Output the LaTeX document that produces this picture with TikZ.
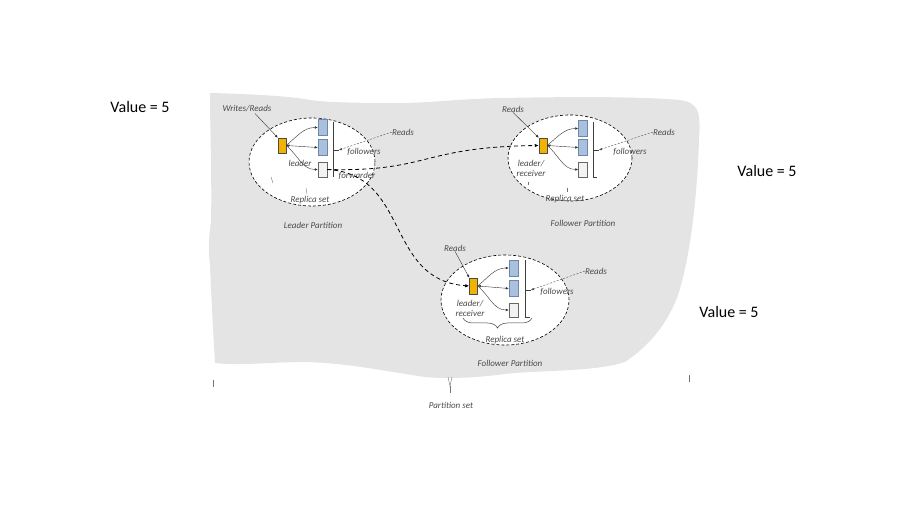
\documentclass[tikz,border=0pt]{standalone}
\usepackage{fontspec}
\setmainfont{Carlito}
\usetikzlibrary{shapes.geometric,arrows.meta,decorations.pathreplacing}
\definecolor{blobgray}{HTML}{E4E4E4}
\definecolor{leadfill}{HTML}{F2B300}
\definecolor{folfill}{HTML}{A9C0DE}
\definecolor{folline}{HTML}{6F87A6}
\definecolor{labgray}{HTML}{4A4A4A}
\begin{document}
\begin{tikzpicture}[x=1pt,y=-1pt,
  lab/.style={font=\itshape\fontsize{9}{10}\selectfont, text=labgray, inner sep=0, align=center},
  val/.style={font=\fontsize{16}{18}\selectfont, inner sep=0},
  part/.style={draw, fill=white, ellipse, inner sep=0, line width=0.6pt, dash pattern=on 3pt off 2pt},
  leadbox/.style={draw=black!70, fill=leadfill, minimum width=8pt, minimum height=15pt, inner sep=0, line width=0.5pt},
  folbox/.style={draw=folline, fill=folfill, minimum width=9pt, minimum height=16pt, inner sep=0, line width=0.5pt},
  fwdbox/.style={draw=black!60, fill=black!5, minimum width=9pt, minimum height=15pt, inner sep=0, line width=0.5pt},
  arr/.style={-{Latex[length=3pt,width=2.6pt]}, line width=0.4pt, black!80},
  darr/.style={{Latex[length=3pt,width=2.6pt]}-{Latex[length=3pt,width=2.6pt]}, line width=0.4pt, black!80},
  rarr/.style={-{Latex[length=3pt,width=2.6pt]}, line width=0.4pt, black!70, dash pattern=on 2pt off 1.5pt},
  conn/.style={-{Latex[length=4pt,width=3.5pt]}, line width=0.8pt, dash pattern=on 4pt off 3pt},
  grp/.style={line width=0.5pt, black!75},
  tick/.style={line width=0.4pt, black!55}
]
\useasboundingbox (0,0) rectangle (907,510);
% gray blob (partition set)
\fill[blobgray] (210,93) .. controls (250,94) and (290,96) .. (310,100)
  .. controls (330,103) and (370,103) .. (405,103)
  .. controls (440,102) and (460,99) .. (500,98)
  .. controls (560,97) and (630,96) .. (680,100)
  .. controls (698,103) and (701,110) .. (699,140)
  .. controls (697,200) and (690,260) .. (677,298)
  .. controls (666,325) and (650,345) .. (625,362)
  .. controls (595,372) and (540,370) .. (505,374)
  .. controls (475,378) and (445,379) .. (425,377)
  .. controls (395,373) and (350,363) .. (305,362)
  .. controls (270,362) and (240,366) .. (215,363)
  .. controls (213,330) and (211,290) .. (210,265)
  .. controls (208,250) and (209,235) .. (211,222)
  .. controls (212,180) and (210,130) .. cycle;

% value labels
\node[val] (v1) at (140,107) {Value = 5};
\node[val] (v2) at (767,171) {Value = 5};
\node[val] (v3) at (729,312) {Value = 5};

% ---------------- Leader partition ----------------
\node[part, minimum width=126pt, minimum height=88pt] (LE) at (312,162) {};
\node[leadbox] (Ll) at (282,145.5) {};
\node[folbox] (Lf1) at (322.5,127.5) {};
\node[folbox] (Lf2) at (322.5,147.5) {};
\node[fwdbox] (Lf3) at (322.5,169.5) {};
\coordinate (Lvt) at (333,122);
\coordinate (Lvb) at (333,177);
\coordinate (Lvm) at (339,150);
\draw[grp] (Lvt) -- (Lvb);
\draw[grp] (333,150) -- (Lvm);
\draw[arr] (Ll.east) to[out=40,in=180] (Lf1.west);
\draw[darr] (Ll.east) -- (Lf2.west);
\draw[arr] (Ll.east) to[out=-40,in=180] (Lf3.west);
\node[lab] (Lwr) at (247,109) {Writes/Reads};
\draw[arr] (Lwr.south) ++(8,1) -- (Ll.north west);
\node[lab] (Lrd) at (403,132) {Reads};
\draw[rarr] (Lrd.west) -- (Lvm);
\node[lab] (Lfo) at (364,152) {followers};
\node[lab] (Lld) at (300,163) {leader};
\node[lab] (Lfw) at (357,176) {forwarder};
\node[lab] (Lrs) at (310,200) {Replica set};
\node[lab] (Llp) at (313,225) {Leader Partition};
\draw[tick] (271,177) -- (273,183);
\draw[tick] (306,188) -- (307,194);

% ---------------- Follower partition (right) ----------------
\node[part, minimum width=124pt, minimum height=86pt] (RE) at (570,158) {};
\node[leadbox] (Rl) at (543,145.5) {};
\node[folbox] (Rf1) at (583,128.5) {};
\node[folbox] (Rf2) at (583,147.5) {};
\node[fwdbox] (Rf3) at (583,169.5) {};
\coordinate (Rvt) at (593,122);
\coordinate (Rvb) at (593,177);
\coordinate (Rvm) at (599,150);
\draw[grp] (Rvt) -- (Rvb) -- (597,177);
\draw[grp] (593,150) -- (Rvm);
\draw[arr] (Rl.east) to[out=40,in=180] (Rf1.west);
\draw[darr] (Rl.east) -- (Rf2.west);
\draw[arr] (Rl.east) to[out=-40,in=180] (Rf3.west);
\node[lab] (Rrt) at (513,109) {Reads};
\draw[arr] (Rrt.south) -- (Rl.north west);
\node[lab] (Rrr) at (664,132) {Reads};
\draw[rarr] (Rrr.west) -- (Rvm);
\node[lab] (Rfo) at (630,152) {followers};
\node[lab] (Rld) at (531,168) {leader/\\receiver};
\node[lab] (Rrs) at (565,199) {Replica set};
\node[lab] (Rfp) at (583,223) {Follower Partition};
\draw[tick] (528,182) -- (528,185);
\draw[tick] (567,188) -- (567,192);

% ---------------- Follower partition (bottom) ----------------
\node[part, minimum width=128pt, minimum height=90pt] (BE) at (505,300) {};
\node[leadbox, minimum height=16pt] (Bl) at (473.5,286) {};
\node[folbox] (Bf1) at (513.5,268) {};
\node[folbox] (Bf2) at (513.5,288.5) {};
\node[fwdbox, minimum height=14pt] (Bf3) at (513.5,310) {};
\coordinate (Bvt) at (525,260);
\coordinate (Bvb) at (525,317);
\coordinate (Bvm) at (531,290);
\draw[grp] (Bvt) -- (Bvb) -- (530,317);
\draw[grp] (525,290) -- (Bvm);
\draw[arr] (Bl.east) to[out=40,in=180] (Bf1.west);
\draw[darr] (Bl.east) -- (Bf2.west);
\draw[arr] (Bl.east) to[out=-40,in=180] (Bf3.west);
\node[lab] (Brt) at (455,248) {Reads};
\draw[arr] (Brt.south) -- (Bl.north west);
\node[lab] (Brr) at (596,271) {Reads};
\draw[rarr] (Brr.west) -- (Bvm);
\node[lab] (Bfo) at (557,292) {followers};
\node[lab] (Bld) at (470,308) {leader/\\receiver};
\coordinate (Bbl) at (463,318);
\coordinate (Bbr) at (532,318);
\draw[grp, decorate, decoration={brace, mirror, amplitude=10pt}] (Bbl) -- (Bbr);
\node[lab] (Brs) at (505,340) {Replica set};
\node[lab] (Bfp) at (510,363) {Follower Partition};

% ---------------- forwarding connectors ----------------
\draw[conn] (Lf3.east) .. controls (430,172) and (420,147) .. (Rl.west);
\draw[conn] (Lf3.east) .. controls (410,174) and (385,280) .. (Bl.west);

% ---------------- partition set marks ----------------
\draw[tick] (213,380) to[out=-100,in=100] (213,387);
\draw[tick] (689,375) -- (689,382);
\coordinate (Pt) at (450,386);
\draw[tick] (448,377) -- (Pt) -- (452,377);
\draw[tick] (Pt) -- (450,393);
\node[lab] (Ps) at (451,405) {Partition set};
\end{tikzpicture}
\end{document}
